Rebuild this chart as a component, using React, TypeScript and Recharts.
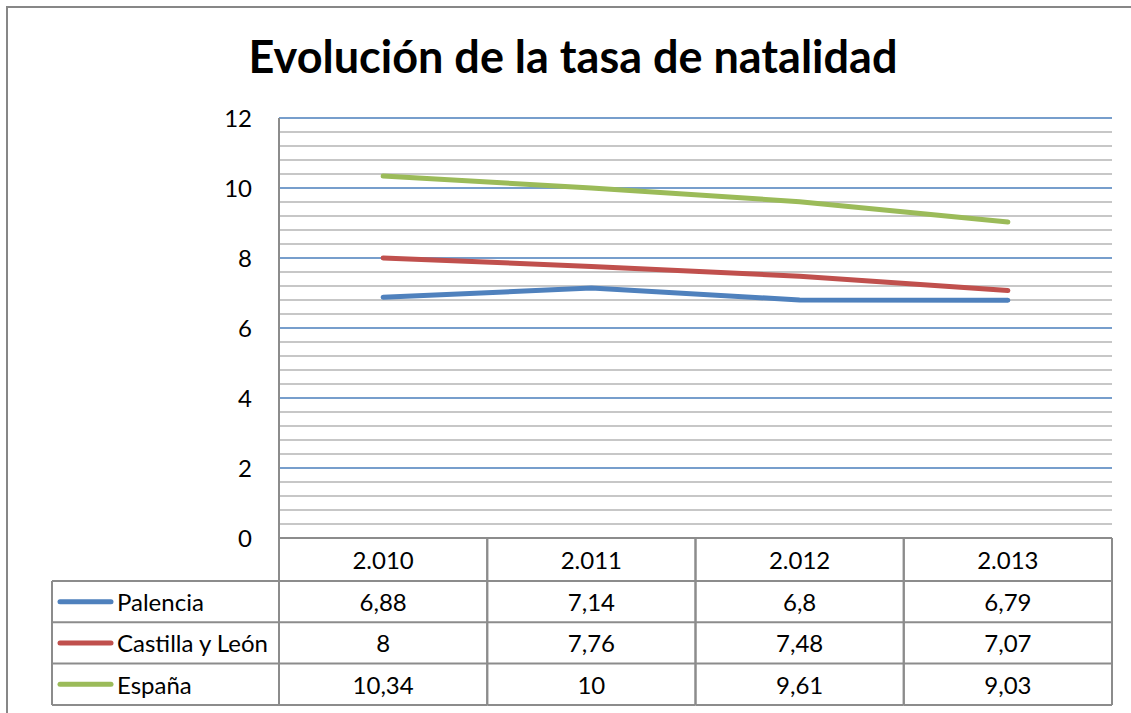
import React from "react";
import { LineChart, Line, XAxis, YAxis, ReferenceLine } from "recharts";

const TITLE = "Evolución de la tasa de natalidad";
const categories = ["2.010", "2.011", "2.012", "2.013"];
const palencia = [6.88, 7.14, 6.8, 6.79];
const castilla = [8, 7.76, 7.48, 7.07];
const espana = [10.34, 10, 9.61, 9.03];
const yTicks = [0, 2, 4, 6, 8, 10, 12];
const majorGrid = [2, 4, 6, 8, 10, 12];
const minorGrid = [
  0.4, 0.8, 1.2, 1.6, 2.4, 2.8, 3.2, 3.6, 4.4, 4.8, 5.2, 5.6, 6.4, 6.8, 7.2, 7.6,
  8.4, 8.8, 9.2, 9.6, 10.4, 10.8, 11.2, 11.6,
];

const series = [
  { key: "palencia", name: "Palencia", color: "#4f81bd", values: palencia },
  { key: "castilla", name: "Castilla y León", color: "#c0504d", values: castilla },
  { key: "espana", name: "España", color: "#9bbb59", values: espana },
];

const data = categories.map((c, i) => {
  const row: any = { year: c };
  series.forEach((s) => (row[s.key] = s.values[i]));
  return row;
});

const W = 1131;
const H = 713;
const PLOT_LEFT = 279;
const PLOT_RIGHT = 1112;
const PLOT_TOP = 118;
const PLOT_BOTTOM = 538;
const BAND = (PLOT_RIGHT - PLOT_LEFT) / categories.length;
const HEADER_H = 43;
const ROW_H = 41.3;
const TABLE_H = HEADER_H + ROW_H * series.length;
const LEGEND_LEFT = 52;
const FONT = "Lato, 'Open Sans', sans-serif";
const FS = 24;
const BORDER = "#8c8c8c";

const fmt = (v: number) => String(v).replace(".", ",");

const TableTick = (props: any) => {
  const { x, y, payload, index } = props;
  const left = x - BAND / 2;
  const right = x + BAND / 2;
  const els: any[] = [];
  els.push(
    <text key="h" x={x} y={y + HEADER_H / 2} textAnchor="middle" dominantBaseline="central" fontSize={FS} fontFamily={FONT} fill="#000">
      {payload.value}
    </text>
  );
  series.forEach((s, r) => {
    const top = y + HEADER_H + r * ROW_H;
    els.push(
      <line key={"hl" + r} x1={index === 0 ? LEGEND_LEFT : left} x2={right} y1={top} y2={top} stroke={BORDER} strokeWidth={2} />
    );
    els.push(
      <text key={"t" + r} x={x} y={top + ROW_H / 2} textAnchor="middle" dominantBaseline="central" fontSize={FS} fontFamily={FONT} fill="#000">
        {fmt(s.values[categories.indexOf(payload.value)])}
      </text>
    );
    if (index === 0) {
      const cy = top + ROW_H / 2;
      els.push(<line key={"sw" + r} x1={60} x2={111} y1={cy} y2={cy} stroke={s.color} strokeWidth={5} strokeLinecap="round" />);
      els.push(
        <text key={"ln" + r} x={117} y={cy} dominantBaseline="central" fontSize={FS} fontFamily={FONT} fill="#000">
          {s.name}
        </text>
      );
    }
  });
  const bottom = y + TABLE_H;
  els.push(<line key="bl" x1={index === 0 ? LEGEND_LEFT : left} x2={right} y1={bottom} y2={bottom} stroke={BORDER} strokeWidth={2} />);
  els.push(<line key="vl" x1={left} x2={left} y1={y} y2={bottom} stroke={BORDER} strokeWidth={2} />);
  els.push(<line key="vr" x1={right} x2={right} y1={y} y2={bottom} stroke={BORDER} strokeWidth={2} />);
  if (index === 0) {
    els.push(<line key="vleg" x1={LEGEND_LEFT} x2={LEGEND_LEFT} y1={y + HEADER_H} y2={bottom} stroke={BORDER} strokeWidth={2} />);
  }
  return <g>{els}</g>;
};

export default function App() {
  return (
    <div style={{ position: "absolute", left: 0, top: 0, width: W, height: H, overflow: "hidden", background: "#fff" }}>
      <div style={{ position: "absolute", left: 6, top: 6, width: W + 20, height: H + 20, border: "2px solid #878787", boxSizing: "border-box" }} />
      <div
        style={{
          position: "absolute",
          left: 0,
          width: W + 15,
          top: 26,
          textAlign: "center",
          fontFamily: FONT,
          fontWeight: 700,
          fontSize: 45,
          lineHeight: "60px",
          color: "#000",
          whiteSpace: "nowrap",
        }}
      >
        {TITLE}
      </div>
      <div style={{ position: "absolute", left: 0, top: 0 }}>
        <LineChart
          width={W}
          height={H}
          data={data}
          margin={{ top: PLOT_TOP, left: 0, right: W - PLOT_RIGHT, bottom: 5 }}
        >
          <XAxis
            dataKey="year"
            padding={{ left: BAND / 2, right: BAND / 2 }}
            height={H - PLOT_BOTTOM - 5}
            tickSize={0}
            tickMargin={0}
            tickLine={false}
            axisLine={{ stroke: BORDER, strokeWidth: 2 }}
            tick={<TableTick />}
            interval={0}
          />
          <YAxis
            domain={[0, 12]}
            ticks={yTicks}
            width={PLOT_LEFT}
            tickSize={0}
            tickMargin={27}
            tickLine={false}
            axisLine={{ stroke: BORDER, strokeWidth: 2 }}
            tick={{ fontSize: FS, fontFamily: FONT, fill: "#000" }}
          />
          {minorGrid.map((v) => (
            <ReferenceLine key={"m" + v} y={v} stroke="#b5b5b5" strokeWidth={1.5} />
          ))}
          {majorGrid.map((v) => (
            <ReferenceLine key={"M" + v} y={v} stroke="#4a7ebb" strokeWidth={1.5} />
          ))}
          {series.map((s) => (
            <Line
              key={s.key}
              dataKey={s.key}
              name={s.name}
              stroke={s.color}
              strokeWidth={5}
              strokeLinecap="round"
              dot={false}
              activeDot={false}
              type="linear"
              isAnimationActive={false}
            />
          ))}
        </LineChart>
      </div>
    </div>
  );
}
